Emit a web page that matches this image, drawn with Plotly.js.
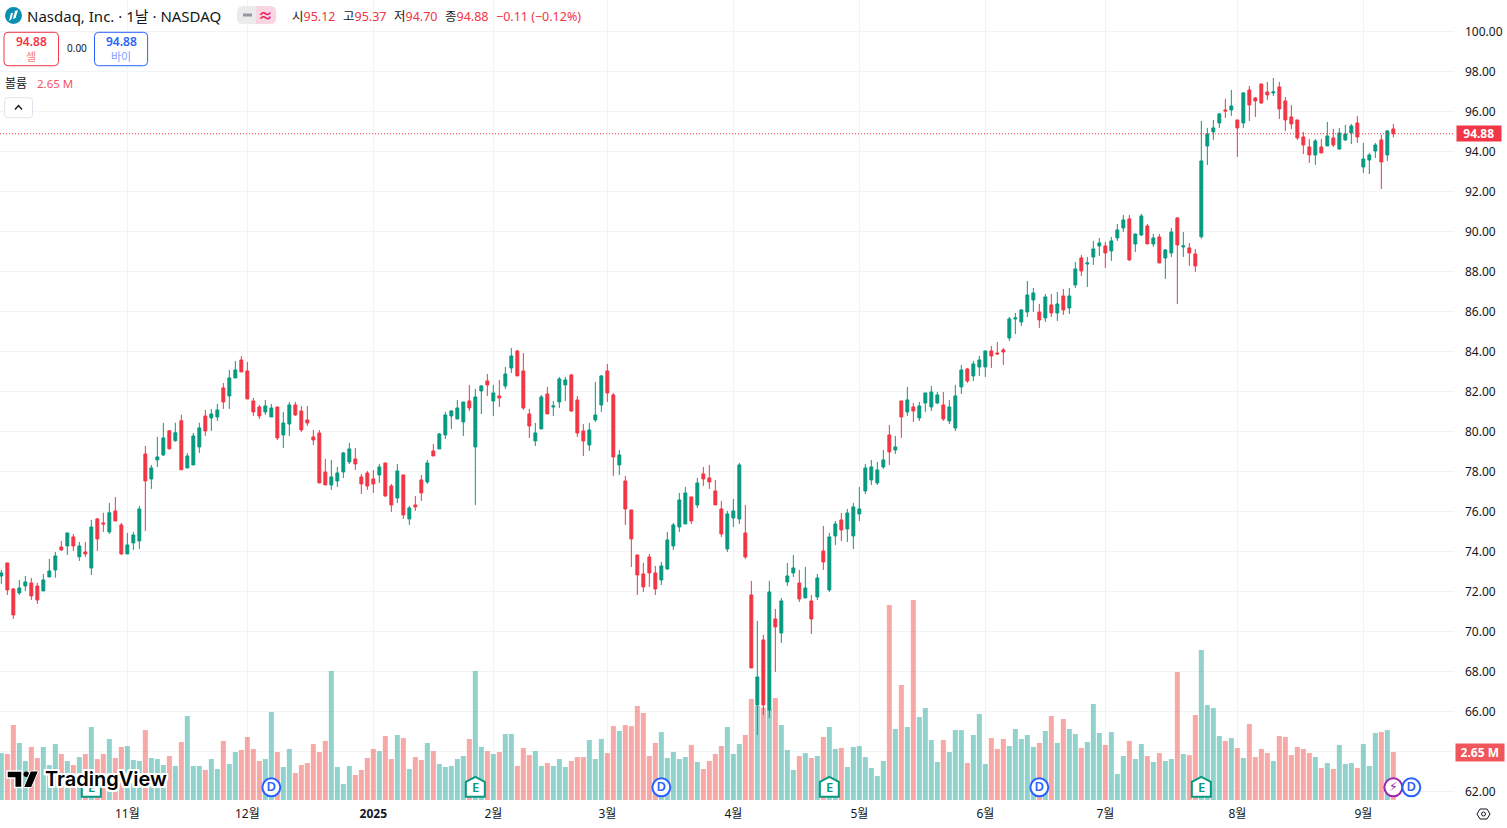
<!DOCTYPE html>
<html><head><meta charset="utf-8">
<script src="https://cdn.plot.ly/plotly-3.0.1.min.js"></script>
<style>html,body{margin:0;padding:0;background:#fff;overflow:hidden}#chart{width:1507px;height:828px}</style>
</head><body><div id="chart"></div>
<script>
const open=[72.77,73.42,72.12,71.92,72.27,72.42,72.27,72.02,72.72,73.07,
74.22,74.27,74.72,73.73,73.97,73.17,75.62,75.42,74.97,76.02,
75.32,73.87,74.42,74.52,78.87,77.62,78.57,78.82,80.03,79.53,
80.53,78.17,78.32,79.22,80.77,80.67,80.72,82.17,81.77,82.67,
83.57,83.02,81.52,81.22,80.97,80.72,81.22,79.82,80.37,81.32,
81.02,80.57,79.72,79.92,77.97,77.32,77.52,77.97,78.47,78.62,
77.72,77.92,77.62,77.82,78.42,77.27,76.67,77.82,75.62,76.32,
77.57,77.47,79.02,79.12,79.82,80.77,80.62,80.47,81.52,79.22,
82.02,82.52,81.52,81.77,82.27,83.17,84.02,83.02,80.87,79.52,
80.12,81.87,81.22,81.47,82.32,82.82,81.57,80.02,79.32,80.57,
81.32,83.02,81.82,78.32,77.52,76.07,73.82,72.87,73.72,72.92,
72.57,73.12,74.27,75.22,75.37,76.72,76.32,77.87,77.67,77.02,
76.12,74.12,75.67,75.62,74.92,71.82,66.32,69.57,66.07,70.62,
69.92,72.47,72.92,72.42,71.67,71.52,71.72,74.02,72.07,74.77,
75.57,75.12,74.77,75.87,77.02,77.57,77.42,78.22,79.82,79.07,
81.52,80.97,81.22,80.67,81.42,81.22,81.42,81.32,80.52,80.17,
82.22,83.12,82.77,83.22,83.22,84.02,83.92,84.07,84.67,85.62,
85.47,85.97,86.57,85.97,85.67,86.32,85.92,86.77,86.17,87.32,
88.67,88.37,88.72,89.27,89.27,89.02,89.67,90.17,90.62,89.37,
89.82,90.27,89.37,89.72,88.67,88.92,90.67,89.22,89.17,88.87,
89.73,94.27,94.97,95.42,96.07,96.07,95.57,95.42,97.07,96.67,
97.37,96.97,96.92,97.22,96.52,95.72,95.57,94.72,94.22,93.82,
94.22,94.27,94.67,94.12,94.57,94.92,95.42,93.22,93.57,94.02,
94.57,93.82,95.12];
const close=[72.92,72.07,70.82,72.17,72.47,71.77,71.57,72.57,73.02,73.77,
74.07,74.92,74.27,74.27,73.87,75.22,74.62,75.37,75.93,75.52,
73.87,74.32,74.82,76.12,77.52,78.17,78.72,79.67,79.13,79.93,
78.08,78.77,79.77,80.17,80.02,80.87,81.07,81.47,82.67,83.07,
82.97,81.62,80.97,80.77,81.27,81.17,79.67,80.42,81.32,80.82,
80.07,80.42,79.57,77.42,77.32,77.72,77.92,78.92,79.12,78.37,
77.37,77.27,77.37,78.22,76.77,76.32,78.02,75.82,76.17,76.22,
76.92,78.42,78.77,79.87,80.82,81.02,81.17,81.47,81.17,81.72,
82.27,82.32,81.92,81.67,82.87,83.77,82.77,81.17,80.27,79.92,
81.72,80.87,81.27,82.62,82.57,81.02,79.92,79.52,80.07,80.82,
82.77,81.92,78.72,78.82,76.12,74.62,72.82,72.22,72.92,72.12,
73.27,74.57,75.32,76.57,76.92,75.52,77.42,77.62,77.47,76.32,
74.87,75.87,76.02,78.32,73.72,68.17,67.72,66.32,71.97,70.22,
71.52,72.77,73.17,71.62,72.17,70.62,72.67,73.47,74.72,75.37,
75.07,75.92,76.22,76.12,78.17,78.22,78.07,78.57,78.97,79.22,
80.72,81.57,81.02,81.27,81.92,81.97,81.82,80.62,81.22,81.77,
83.07,82.52,83.37,83.57,84.02,83.77,83.87,83.97,85.62,85.67,
86.07,86.82,86.92,85.57,86.72,85.92,86.37,86.07,86.77,88.12,
88.02,88.42,89.12,89.42,88.92,89.52,90.07,90.57,88.57,89.87,
90.77,89.37,89.67,88.42,89.07,89.97,89.32,89.27,88.92,88.27,
93.52,94.87,95.17,95.87,96.02,96.27,95.17,96.92,96.32,96.52,
96.42,96.82,96.97,96.12,95.57,95.37,94.67,94.32,93.82,94.52,
93.92,94.77,94.32,94.92,94.87,95.27,94.72,93.62,93.82,94.32,
93.47,95.02,94.88];
const high=[73.07,73.42,72.17,72.57,72.77,72.67,72.42,72.87,73.62,73.97,
74.52,74.92,74.87,74.47,74.47,75.57,75.67,75.93,76.42,76.72,
75.42,74.92,74.97,76.27,79.27,78.32,79.72,80.42,80.03,80.43,
80.83,78.92,79.92,80.43,81.07,81.12,81.37,82.42,83.07,83.52,
83.77,83.47,81.67,81.32,81.57,81.37,81.22,80.97,81.47,81.47,
81.27,81.27,80.07,80.07,78.62,78.57,78.22,78.97,79.42,79.17,
77.87,78.02,78.07,78.37,78.42,77.37,78.37,77.82,76.27,76.77,
77.82,78.57,79.37,79.92,80.97,81.07,81.57,81.47,82.32,82.12,
82.32,82.87,82.32,82.57,83.22,84.17,84.07,83.92,81.12,80.42,
81.82,82.22,81.52,82.72,82.72,82.87,81.77,80.37,80.42,82.47,
82.82,83.37,81.92,79.07,77.77,76.07,73.82,73.42,73.87,73.27,
73.47,74.97,75.42,76.92,77.22,76.72,77.67,78.22,78.32,77.57,
76.52,76.02,76.62,78.42,76.32,72.52,70.52,69.82,72.52,71.12,
71.67,73.42,73.82,73.07,73.22,71.82,72.87,75.27,74.92,75.52,
75.92,76.12,76.42,77.22,78.37,78.57,78.47,79.07,80.32,79.77,
81.52,82.22,81.42,81.47,81.92,82.27,81.97,81.97,81.57,82.32,
83.32,83.17,83.52,83.77,84.02,84.27,84.47,84.17,85.72,85.92,
86.12,87.52,87.17,86.37,86.87,86.87,86.97,87.12,87.17,88.47,
88.82,88.72,89.52,89.67,89.47,89.72,90.37,90.82,90.82,89.87,
90.87,90.37,89.87,89.87,89.12,90.17,90.72,89.97,89.42,89.12,
95.52,95.17,95.57,95.92,96.62,97.07,95.57,96.97,97.27,96.72,
97.37,97.47,97.67,97.47,96.72,96.32,95.57,94.97,94.62,94.62,
94.62,95.47,95.12,95.17,95.32,95.37,95.77,94.42,93.92,94.42,
94.82,95.07,95.37];
const low=[72.37,71.82,70.62,71.82,72.02,71.57,71.37,72.02,72.72,72.68,
74.02,73.82,74.02,73.52,73.73,72.82,74.02,74.97,74.87,75.52,
73.82,73.87,74.07,74.12,75.02,77.12,78.22,78.77,79.08,79.48,
78.08,78.17,78.32,78.92,79.77,80.02,80.52,81.12,81.12,82.67,
82.97,81.62,80.77,80.62,80.82,80.72,79.57,79.17,79.77,80.77,
79.97,80.27,79.32,77.42,77.32,77.07,77.22,77.67,78.37,78.07,
76.87,77.07,76.92,77.42,76.72,75.97,76.42,75.62,75.32,76.02,
76.52,77.37,78.77,79.12,79.62,80.12,80.62,79.77,81.02,76.32,
80.87,81.77,80.77,81.22,82.12,82.92,82.77,81.07,79.67,79.27,
80.12,80.87,80.77,81.17,81.52,80.97,79.72,78.77,79.02,80.47,
80.97,81.47,77.77,77.82,75.32,73.22,71.82,71.97,72.22,71.82,
72.32,73.07,74.07,74.97,75.37,75.37,76.17,77.27,77.12,76.32,
74.72,73.97,75.22,75.37,73.62,68.17,64.82,65.82,65.67,67.97,
69.42,72.27,72.72,71.47,71.67,69.87,71.57,73.07,71.97,74.32,
74.52,74.47,74.12,75.52,76.87,77.32,77.32,78.12,78.32,78.87,
79.67,80.77,80.47,80.52,80.97,81.02,81.37,80.52,80.37,80.02,
81.87,82.42,82.52,82.77,82.72,83.17,83.82,83.32,84.52,84.87,
85.27,85.72,85.97,85.17,85.47,85.72,85.52,85.82,85.87,87.17,
87.77,87.22,88.32,88.77,88.17,88.52,89.52,89.97,88.52,88.97,
89.77,89.37,89.22,88.42,87.62,88.72,86.37,88.72,88.27,87.97,
89.63,93.32,94.57,95.17,95.67,95.77,93.72,95.17,95.52,95.72,
96.37,96.57,96.77,95.62,95.02,95.12,94.57,93.87,93.42,93.32,
93.92,94.27,94.22,94.07,94.52,94.37,94.42,92.92,92.87,93.67,
92.12,93.52,94.70];
const volumeM=[2.59,2.54,4.14,3.15,2.15,2.93,2.32,2.93,1.93,3.09,
2.54,2.15,1.93,2.37,2.54,4.03,2.26,2.54,3.37,2.32,
2.93,2.98,2.21,2.15,3.86,2.32,2.26,1.93,2.43,1.88,
3.20,4.64,1.88,1.88,1.66,2.26,1.71,3.26,1.99,2.65,
2.76,3.48,2.82,2.15,2.26,4.86,2.65,1.82,2.82,1.49,
1.93,2.04,3.09,2.65,3.26,7.12,1.82,0.88,1.88,1.38,
1.66,2.32,2.82,2.70,3.53,2.26,3.59,3.42,1.71,2.37,
2.21,3.15,2.70,1.99,1.82,1.88,2.26,2.43,3.37,7.12,
2.93,2.70,2.54,2.65,3.64,3.64,1.88,2.87,2.48,2.70,
1.88,2.04,1.88,2.26,1.82,2.15,2.37,2.37,3.31,2.26,
3.37,2.59,4.08,3.81,4.14,4.08,5.19,4.80,2.43,3.15,
3.75,2.32,2.65,2.26,2.37,3.04,2.10,1.71,2.15,2.54,
2.98,4.03,2.54,3.09,3.59,5.58,5.20,5.10,5.00,5.63,
4.14,2.76,1.66,2.43,2.59,2.32,2.43,3.48,4.03,2.82,
2.87,1.82,2.93,2.98,2.37,1.77,1.32,2.15,10.76,3.92,
6.35,4.03,11.04,4.58,5.08,3.31,2.10,3.31,2.65,3.86,
3.86,2.04,3.59,4.75,1.99,3.42,2.82,3.37,2.98,3.92,
3.37,3.59,2.93,3.15,3.81,4.64,3.15,4.47,3.92,3.64,
2.87,3.20,5.30,3.70,3.04,3.75,1.44,2.43,3.26,2.26,
3.09,2.43,2.10,2.59,2.15,2.26,7.07,2.54,2.48,4.69,
8.28,5.24,5.08,3.53,3.26,3.42,2.87,2.32,4.20,2.37,
2.82,2.59,2.15,3.53,3.48,2.48,2.93,2.82,2.59,2.37,
1.77,2.04,1.71,3.04,1.99,2.04,1.77,3.09,1.88,3.70,
3.75,3.86,2.65];
const monthTickIndex=[21,41,62,82,101,122,143,164,184,206,227];
const monthTickLabels=['11월','12월','<b>2025</b>','2월','3월','4월','5월','6월','7월','8월','9월'];
const priceTicks=[62,64,66,68,70,72,74,76,78,80,82,84,86,88,90,92,94,96,98,100];
const priceTickLabels=['62.00','','66.00','68.00','70.00','72.00','74.00','76.00','78.00','80.00','82.00','84.00','86.00','88.00','90.00','92.00','94.00','96.00','98.00','100.00'];
const dividendIndex=[45,110,173,235];
const earningsIndex=[15,79,138,200];
const flashIndex=[232];
const lastPrice=94.88;
const ohlcLabels=['시','고','저','종'];
const ohlcValues=['95.12','95.37','94.70','94.88'];

const W=1507,H=828,PW=1454,PH=800;
const GREEN='#089981',RED='#F23645',BLUE='#2962FF',INK='#131722';
const FONT='"Noto Sans","Noto Sans CJK KR",sans-serif';
const px=x=>x/PW, py=y=>1-y/PH;
const idx=open.map((_,i)=>i);
const pxPath=pts=>pts.map((p,i)=>(i?'L':'M')+px(p[0])+' '+py(p[1])).join(' ')+' Z';
const eventLevel=62.2;
const note=(x,y,text,o={})=>({xref:'paper',yref:'paper',x:px(x),y:py(y),text,showarrow:false,
  xanchor:o.xa||'left',yanchor:'middle',align:o.align||'left',
  font:{family:o.family||FONT,size:o.size||12,color:o.color||INK,weight:o.weight,shadow:o.shadow},
  bgcolor:o.bg,width:o.w,height:o.h,borderpad:0});
const rect=(x0,y0,x1,y1,o={})=>({type:'rect',xref:'paper',yref:'paper',x0:px(x0),x1:px(x1),y0:py(y0),y1:py(y1),
  line:{color:o.line||'rgba(0,0,0,0)',width:o.lw==null?1:o.lw},fillcolor:o.fill||'rgba(0,0,0,0)'});
const rrect=(x0,y0,x1,y1,r,o={})=>{const X=v=>px(v),Y=v=>py(v);
  return {type:'path',xref:'paper',yref:'paper',
   path:`M${X(x0+r)} ${Y(y0)} L${X(x1-r)} ${Y(y0)} Q${X(x1)} ${Y(y0)} ${X(x1)} ${Y(y0+r)} L${X(x1)} ${Y(y1-r)} Q${X(x1)} ${Y(y1)} ${X(x1-r)} ${Y(y1)} L${X(x0+r)} ${Y(y1)} Q${X(x0)} ${Y(y1)} ${X(x0)} ${Y(y1-r)} L${X(x0)} ${Y(y0+r)} Q${X(x0)} ${Y(y0)} ${X(x0+r)} ${Y(y0)} Z`,
   line:{color:o.line||'rgba(0,0,0,0)',width:o.lw==null?1:o.lw},fillcolor:o.fill||'rgba(0,0,0,0)'};};

const traces=[
 {type:'bar',x:idx,y:volumeM,yaxis:'y',width:5/6,
  marker:{color:idx.map(i=>close[i]>=open[i]?'rgba(38,166,154,0.5)':'rgba(239,83,80,0.5)'),line:{width:0}},hoverinfo:'skip'},
 {type:'candlestick',x:idx,open,high,low,close,yaxis:'y2',whiskerwidth:0,
  increasing:{line:{color:GREEN,width:1},fillcolor:GREEN},
  decreasing:{line:{color:RED,width:1},fillcolor:RED},hoverinfo:'skip'},
 {type:'scatter',mode:'markers+text',x:flashIndex,y:flashIndex.map(()=>eventLevel),yaxis:'y2',text:['⚡'],
  textposition:'middle center',textfont:{family:'"DejaVu Sans"',size:13,color:'#9C27B0'},
  marker:{symbol:'circle',size:18,color:'#fff',line:{color:'#9C27B0',width:2}},hoverinfo:'skip'},
 {type:'scatter',mode:'markers+text',x:dividendIndex,y:dividendIndex.map(()=>eventLevel),yaxis:'y2',text:dividendIndex.map(()=>'D'),
  textposition:'middle center',textfont:{family:FONT,size:13,color:BLUE,weight:600},
  marker:{symbol:'circle',size:18,color:'#fff',line:{color:BLUE,width:2}},hoverinfo:'skip'}
];

const housePath='M 0 10.5 L 9.5 5.5 L 9.5 -9.5 L -9.5 -9.5 L -9.5 5.5 Z';
const shapes=[
 {type:'line',xref:'paper',yref:'y2',x0:0,x1:1,y0:lastPrice,y1:lastPrice,line:{color:RED,width:1,dash:'1px,2px'}},
 ...earningsIndex.map(i=>({type:'path',layer:'above',xsizemode:'pixel',ysizemode:'pixel',xref:'x',yref:'y2',xanchor:i,yanchor:eventLevel,
   path:housePath,line:{color:GREEN,width:2},fillcolor:'#fff'})),
 // 헤더 로고
 {type:'circle',xref:'paper',yref:'paper',x0:px(5),x1:px(22),y0:py(7),y1:py(24),line:{width:0},fillcolor:'#0B8FB0'},
 {type:'path',xref:'paper',yref:'paper',path:pxPath([[9,21],[11,13],[13,13],[11.5,19]]),line:{width:0},fillcolor:'#fff'},
 {type:'path',xref:'paper',yref:'paper',path:pxPath([[13,19],[15,11],[18,10],[15.5,18]]),line:{width:0},fillcolor:'#fff'},
 // 상태 필
 rrect(237,6,257,24,6,{fill:'#EBEBEB'}),
 rect(250,6,256,24,{fill:'#EBEBEB',lw:0}),
 rrect(256,6,276,24,6,{fill:'#F9D5E2'}),
 rect(256,6,262,24,{fill:'#F9D5E2',lw:0}),
 {type:'line',xref:'paper',yref:'paper',x0:px(243),x1:px(252),y0:py(15),y1:py(15),line:{color:'#9598A1',width:3}},
 // 주문 버튼
 rrect(4,32.3,58.5,65.7,4,{line:RED,fill:'#fff'}),
 rrect(94.5,32.3,147.6,65.7,4,{line:BLUE,fill:'#fff'}),
 rrect(4.6,97.7,32.5,117.7,3,{line:'#E0E3EB',fill:'#fff'}),
 {type:'path',xref:'paper',yref:'paper',path:`M${px(15)} ${py(109.5)} L${px(18.5)} ${py(105.5)} L${px(22)} ${py(109.5)}`,line:{color:INK,width:1.4}},
 // TradingView 로고
 {type:'path',xref:'paper',yref:'paper',path:pxPath([[7,771],[22,771],[22,787.5],[14.7,787.5],[14.7,778],[7,778]]),line:{color:'#fff',width:1.5},fillcolor:'#000'},
 {type:'circle',xref:'paper',yref:'paper',x0:px(23.5),x1:px(29),y0:py(771.5),y1:py(777),line:{width:0},fillcolor:'#000'},
 {type:'path',xref:'paper',yref:'paper',path:pxPath([[30.5,771],[38.5,771],[31.5,787.5],[23.5,787.5]]),line:{color:'#fff',width:1},fillcolor:'#000'},
 // 설정 아이콘
 {type:'path',xref:'paper',yref:'paper',path:pxPath([[1477,814],[1480,809],[1487,809],[1490,814],[1487,819],[1480,819]]),line:{color:INK,width:1}},
 {type:'circle',xref:'paper',yref:'paper',x0:px(1481.5),x1:px(1485.5),y0:py(812),y1:py(816),line:{color:INK,width:1}}
];

const halo=[];
for(const a of [-2,-1,0,1,2])for(const b of [-2,-1,0,1,2])if(a||b)halo.push(`${a}px ${b}px 0 #fff`);
const annotations=[
 ...earningsIndex.map(i=>({xref:'x',yref:'y2',x:i,y:eventLevel,text:'E',showarrow:false,xanchor:'center',yanchor:'middle',
   font:{family:FONT,size:13,color:GREEN,weight:600}})),
 note(26,15.5,'Nasdaq, Inc. · 1날 · NASDAQ',{size:15}),
 note(265.5,15,'≈',{size:15,color:'#E91E63',xa:'center',weight:700}),
 ...ohlcLabels.map((t,i)=>note(290.5+51*i,16,`${t}<span style="color:${RED}">${ohlcValues[i]}</span>`,{size:12.5})),
 note(495,16,'−0.11 (−0.12%)',{size:12.5,color:RED}),
 note(31,42,'94.88',{color:RED,xa:'center',size:12,weight:600}),
 note(31,56,'셀',{color:'#F77C80',xa:'center',size:11}),
 note(76.5,48,'0.00',{xa:'center',size:10}),
 note(121,42,'94.88',{color:BLUE,xa:'center',size:12,weight:600}),
 note(121,56,'바이',{color:'#7EA0FF',xa:'center',size:11}),
 note(4,83,'볼륨',{size:12}),
 note(36,83,'2.65 M',{size:11.5,color:'#F7525F'}),
 note(1478.5,133.5,'94.88',{xa:'center',size:12,color:'#fff',bg:RED,w:43.5,h:15,weight:700,align:'center'}),
 note(1480.5,752.5,'2.65 M',{xa:'center',size:12,color:'#fff',bg:'#F0575A',w:47.5,h:16.5,weight:700,align:'center'}),
 note(43.5,779,'TradingView',{size:20,color:'#000',weight:600,family:'Inter,Roboto,sans-serif',shadow:halo.join(',')})
];

const layout={
 width:W,height:H,autosize:false,paper_bgcolor:'#fff',plot_bgcolor:'#fff',showlegend:false,hovermode:false,
 margin:{l:0,r:W-PW,t:0,b:H-PH,pad:0},boxgap:0.3,barmode:'overlay',
 font:{family:FONT,size:12,color:INK},
 xaxis:{type:'linear',range:[-1.333/6,(PW-1.333)/6],tickvals:monthTickIndex,ticktext:monthTickLabels,tickmode:'array',
   showgrid:true,gridcolor:'#F2F3F4',gridwidth:1,zeroline:false,showline:false,ticks:'',rangeslider:{visible:false},
   fixedrange:true,tickangle:0,tickfont:{family:FONT,size:12,color:INK},ticklabelstandoff:5},
 yaxis:{range:[0,PH*2.65/48],visible:false,fixedrange:true,showgrid:false,zeroline:false},
 yaxis2:{overlaying:'y',side:'right',range:[61.567,101.567],tickmode:'array',tickvals:priceTicks,ticktext:priceTickLabels,
   showgrid:true,gridcolor:'#F2F3F4',gridwidth:1,zeroline:false,showline:false,ticks:'',fixedrange:true,
   tickfont:{family:FONT,size:12,color:INK},ticklabelstandoff:10,automargin:false},
 shapes,annotations
};
Plotly.newPlot('chart',traces,layout,{displayModeBar:false,staticPlot:true,responsive:false});
</script></body></html>
